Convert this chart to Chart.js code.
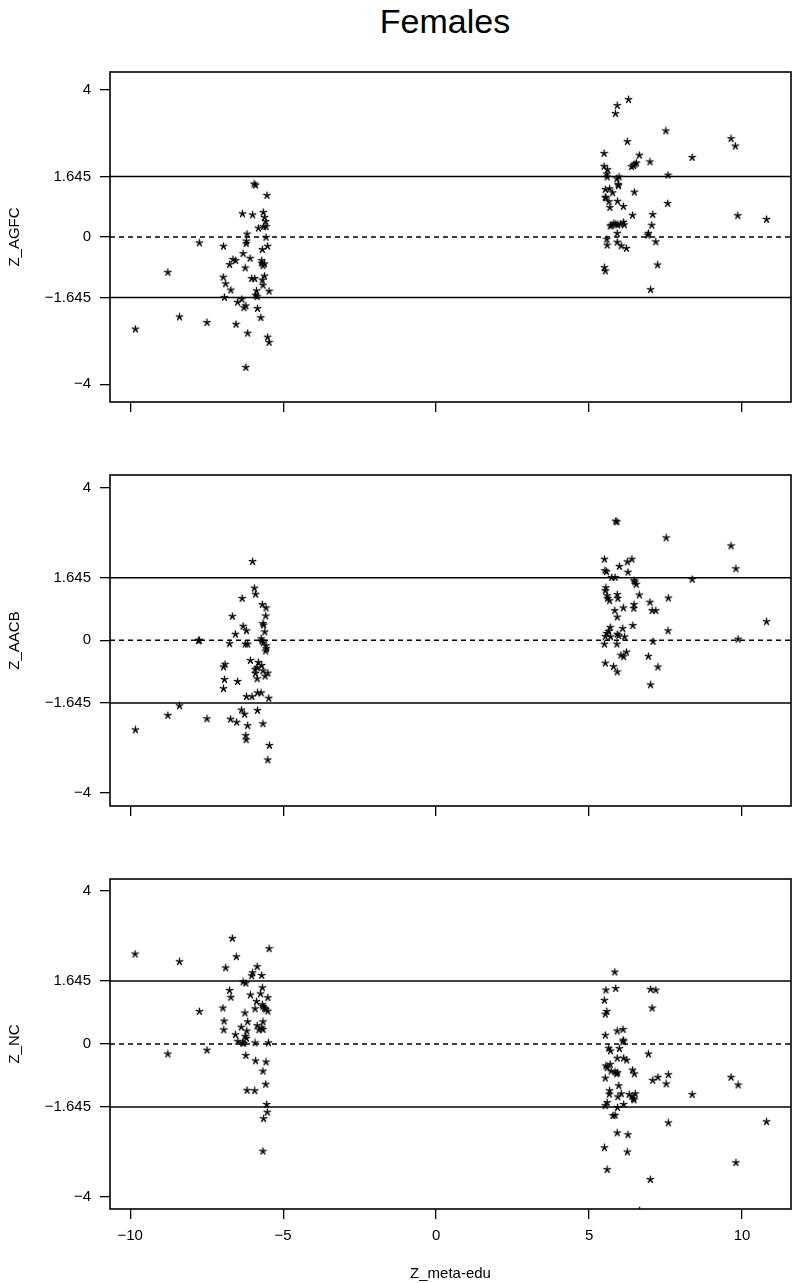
<!DOCTYPE html>
<html><head><meta charset="utf-8">
<script src="https://cdn.jsdelivr.net/npm/chart.js@4.4.0/dist/chart.umd.min.js"></script>
<style>
html,body{margin:0;padding:0;background:#fff;width:796px;height:1283px;overflow:hidden;}
#title{position:absolute;left:0;width:890px;top:4px;text-align:center;font:34px/34px "Liberation Sans",Arial,sans-serif;color:#000;}
canvas{position:absolute;left:0;}
</style></head><body>
<div id="title">Females</div>
<canvas id="c1" width="796" height="430" style="top:0px"></canvas>
<canvas id="c2" width="796" height="400" style="top:430px"></canvas>
<canvas id="c3" width="796" height="453" style="top:830px"></canvas>
<script>
// ---- data ----
const xTicks = [-10, -5, 0, 5, 10];
const yTicks = [4, 1.645, 0, -1.645, -4];
const refValues = [1.645, 0, -1.645];
const xRange = [-10.66, 11.6];

const agfcX = [-5.95,-5.90,-5.53,-6.33,-6.00,-5.65,-5.61,-5.57,-5.64,-5.56,-5.81,-6.18,-6.20,-6.21,-5.56,-7.74,-6.95,-5.51,-5.68,-6.31,-6.08,-6.64,-6.55,-6.75,-6.24,-5.70,-5.70,-5.66,-5.61,-8.77,-6.96,-6.88,-6.71,-6.03,-5.93,-5.68,-5.61,-5.66,-5.46,-5.87,-5.90,-5.85,-6.92,-6.35,-6.49,-6.22,-6.28,-5.84,-5.73,-8.39,-7.49,-6.54,-9.83,-6.16,-5.51,-5.46,-6.22,
 6.29,5.92,5.86,7.51,6.25,9.64,9.78,5.49,6.64,6.99,8.37,6.39,6.45,6.50,6.55,5.49,5.60,5.58,5.59,5.91,5.98,5.95,5.96,7.58,5.53,5.67,5.77,5.53,5.55,5.65,5.68,5.93,6.12,6.48,7.57,6.42,7.08,9.86,10.80,7.05,5.69,5.74,5.81,5.87,5.94,6.03,6.12,6.15,5.92,6.94,6.92,5.58,5.59,5.92,6.05,6.22,7.18,7.24,5.50,5.53,7.01];
const agfcY = [1.44,1.41,1.13,0.63,0.60,0.67,0.53,0.42,0.28,0.28,0.24,0.08,-0.11,-0.18,-0.01,-0.16,-0.25,-0.25,-0.34,-0.45,-0.58,-0.61,-0.64,-0.75,-0.84,-0.64,-0.71,-0.78,-0.73,-0.96,-1.09,-1.27,-1.44,-1.13,-1.13,-1.17,-1.06,-1.31,-1.47,-1.46,-1.58,-1.62,-1.64,-1.69,-1.77,-1.87,-1.92,-1.94,-2.19,-2.17,-2.32,-2.37,-2.50,-2.61,-2.72,-2.86,-3.54,
 3.73,3.57,3.35,2.88,2.59,2.67,2.47,2.27,2.22,2.04,2.16,1.91,1.94,1.98,2.01,1.92,1.83,1.71,1.63,1.58,1.63,1.43,1.39,1.68,1.29,1.31,1.20,1.08,1.06,0.96,0.80,0.97,0.83,1.22,0.91,0.59,0.61,0.58,0.48,0.32,0.30,0.32,0.37,0.35,0.33,0.35,0.40,0.33,0.10,0.10,0.05,-0.06,-0.22,-0.14,-0.24,-0.31,-0.13,-0.76,-0.83,-0.92,-1.43];

const aacbX = [-6.00,-5.94,-5.90,-6.34,-5.68,-5.56,-6.66,-5.57,-5.66,-5.64,-6.31,-6.20,-6.56,-5.60,-7.74,-7.77,-6.75,-6.24,-6.16,-5.72,-5.69,-5.65,-5.56,-5.55,-5.57,-6.07,-5.81,-5.70,-5.85,-5.66,-6.90,-6.95,-5.92,-5.91,-5.85,-5.50,-5.59,-6.92,-6.49,-6.95,-6.20,-6.02,-5.84,-5.72,-5.47,-8.39,-6.36,-6.26,-5.84,-8.77,-7.49,-6.72,-6.52,-6.16,-5.66,-9.83,-6.22,-6.21,-5.45,-5.50,
 5.87,5.91,7.52,9.64,5.50,6.40,6.25,5.99,5.52,5.57,6.27,9.80,5.74,5.85,6.47,6.50,6.54,8.37,5.55,5.53,5.59,5.61,5.67,5.92,5.94,6.64,7.59,6.99,6.47,6.46,6.12,5.84,7.06,7.18,5.92,6.43,6.10,7.58,10.80,5.69,5.64,5.58,5.53,5.92,5.97,6.16,5.70,5.50,5.91,7.09,9.87,6.22,6.04,6.13,6.94,5.53,5.80,5.92,7.25,7.01];
const aacbY = [2.07,1.37,1.21,1.10,0.94,0.85,0.63,0.64,0.44,0.40,0.37,0.25,0.16,0.22,0.00,-0.01,-0.09,-0.10,-0.10,0.04,-0.02,-0.07,-0.14,-0.22,-0.28,-0.53,-0.58,-0.66,-0.72,-0.80,-0.63,-0.70,-0.76,-0.87,-1.01,-0.86,-0.94,-1.03,-1.08,-1.27,-1.48,-1.48,-1.38,-1.38,-1.52,-1.72,-1.83,-1.94,-1.84,-1.97,-2.06,-2.07,-2.15,-2.24,-2.19,-2.35,-2.50,-2.61,-2.76,-3.14,
 3.13,3.11,2.69,2.48,2.13,2.13,2.06,1.94,1.83,1.80,1.79,1.88,1.65,1.65,1.57,1.53,1.47,1.60,1.38,1.30,1.17,1.10,1.04,1.20,1.10,1.19,1.11,1.00,0.94,0.84,0.85,0.78,0.78,0.78,0.61,0.39,0.31,0.25,0.49,0.34,0.24,0.18,0.10,0.16,0.12,0.09,0.09,-0.10,-0.10,-0.03,0.03,-0.31,-0.39,-0.43,-0.42,-0.60,-0.69,-0.83,-0.70,-1.17];

const ncX = [-6.66,-5.46,-9.84,-6.53,-8.39,-6.88,-5.85,-6.00,-6.03,-5.70,-6.31,-6.22,-5.68,-6.75,-6.71,-6.07,-5.74,-5.50,-5.87,-5.68,-5.66,-5.61,-5.57,-5.50,-5.92,-6.97,-7.74,-6.25,-6.93,-6.16,-5.66,-6.94,-6.37,-6.19,-5.85,-5.79,-5.70,-5.66,-6.56,-6.24,-6.20,-6.48,-6.33,-6.29,-5.92,-5.48,-8.77,-7.49,-6.22,-5.90,-5.56,-5.66,-5.57,-6.18,-5.93,-5.54,-5.52,-5.64,-5.66,
 5.84,5.55,5.87,7.01,7.18,5.50,7.06,5.58,5.53,5.92,6.11,5.53,6.12,6.11,5.64,5.70,5.99,6.94,5.92,6.13,6.23,5.55,5.69,5.59,5.72,5.85,5.93,5.90,6.42,6.48,5.53,7.08,7.25,7.59,7.52,9.64,9.87,5.97,5.67,5.66,5.94,6.05,6.31,6.40,6.45,6.51,6.47,8.37,5.59,5.53,5.93,6.13,5.78,5.85,7.59,10.80,5.92,6.27,5.50,6.25,9.80,5.59,7.00,6.65];
const ncY = [2.76,2.49,2.35,2.28,2.15,1.99,2.02,1.86,1.78,1.79,1.62,1.59,1.47,1.40,1.22,1.28,1.31,1.21,1.11,1.03,0.98,0.94,0.91,0.86,0.92,0.94,0.85,0.81,0.60,0.58,0.58,0.37,0.44,0.34,0.48,0.37,0.42,0.38,0.24,0.20,0.15,0.07,0.03,0.02,0.03,0.03,-0.26,-0.16,-0.30,-0.44,-0.47,-0.71,-1.05,-1.21,-1.22,-1.58,-1.78,-1.95,-2.80,
 1.88,1.41,1.45,1.43,1.41,1.14,0.94,0.85,0.78,0.34,0.38,0.23,0.10,0.06,-0.11,-0.18,-0.12,-0.26,-0.37,-0.37,-0.42,-0.57,-0.53,-0.62,-0.71,-0.73,-0.75,-0.78,-0.68,-0.78,-0.89,-0.95,-0.87,-0.80,-1.04,-0.87,-1.07,-1.09,-1.22,-1.31,-1.38,-1.30,-1.32,-1.37,-1.43,-1.30,-1.46,-1.32,-1.53,-1.61,-1.66,-1.58,-1.87,-1.86,-2.06,-2.03,-2.32,-2.37,-2.71,-2.82,-3.10,-3.28,-3.54,-4.35];

// ---- rendering ----
const FONT = {family: '"Liberation Sans", Arial, sans-serif', size: 15};
function fmt(v){ if (v === 0) return '0'; return (v < 0 ? '\u2212' : '') + String(Math.abs(v)); }

function makeStar(){
  const c = document.createElement('canvas'); c.width = 9; c.height = 9;
  const g = c.getContext('2d'); g.strokeStyle = '#000'; g.lineWidth = 1.35; g.lineCap = 'round';
  g.beginPath();
  for (let i = 0; i < 5; i++) {
    const a = -Math.PI/2 + i*2*Math.PI/5;
    g.moveTo(4.5, 4.5); g.lineTo(4.5 + 3.4*Math.cos(a), 4.5 + 3.4*Math.sin(a));
  }
  g.stroke();
  return c;
}
const star = makeStar();

const boxPlugin = {id:'box', afterDatasetsDraw(chart){
  const {ctx, chartArea:a} = chart; ctx.save(); ctx.strokeStyle = '#000'; ctx.lineWidth = 1.6;
  ctx.strokeRect(a.left, a.top, a.right - a.left, a.bottom - a.top); ctx.restore();
}};

function makeChart(id, xs, ys, yMin, yMax, yTitle, padTop, xHeight, showXLabels, xTitle){
  const pts = xs.map((x, i) => ({x: x, y: ys[i]}));
  const lines = refValues.map(v => ({
    data: [{x: xRange[0], y: v}, {x: xRange[1], y: v}],
    showLine: true, pointRadius: 0, borderColor: '#000', borderWidth: 1.5,
    borderDash: v === 0 ? [5, 4] : []
  }));
  new Chart(document.getElementById(id), {
    type: 'scatter',
    data: {datasets: [{data: pts, pointStyle: star, pointRadius: 4, pointHoverRadius: 4}].concat(lines)},
    options: {
      responsive: false, animation: false, events: [],
      layout: {padding: {top: padTop, right: 3, left: 0, bottom: 0}},
      plugins: {legend: {display: false}, tooltip: {enabled: false}},
      scales: {
        x: {type: 'linear', min: xRange[0], max: xRange[1],
          afterBuildTicks: s => { s.ticks = xTicks.map(v => ({value: v})); },
          afterFit: s => { s.height = xHeight; },
          ticks: {display: showXLabels, font: FONT, color: '#000', padding: 8, maxRotation: 0, autoSkip: false, callback: v => fmt(v)},
          grid: {drawOnChartArea: false, drawTicks: true, tickLength: 10, color: '#000', lineWidth: 1.3},
          border: {display: false},
          title: {display: !!xTitle, text: xTitle || '', font: FONT, color: '#000', padding: {top: 0, bottom: 0}}
        },
        y: {type: 'linear', min: yMin, max: yMax,
          afterBuildTicks: s => { s.ticks = yTicks.map(v => ({value: v})); },
          afterFit: s => { s.width = 110; },
          ticks: {font: FONT, color: '#000', padding: 9, autoSkip: false, callback: v => fmt(v)},
          grid: {drawOnChartArea: false, drawTicks: true, tickLength: 10, color: '#000', lineWidth: 1.3},
          border: {display: false},
          title: {display: true, text: yTitle, font: FONT, color: '#000', padding: {top: 6, bottom: 0}}
        }
      }
    },
    plugins: [boxPlugin]
  });
}

makeChart('c1', agfcX, agfcY, -4.48, 4.48, 'Z_AGFC', 72, 28, false, null);
makeChart('c2', aacbX, aacbY, -4.35, 4.34, 'Z_AACB', 45, 24, false, null);
makeChart('c3', ncX, ncY, -4.31, 4.31, 'Z_NC', 49, 74, true, 'Z_meta-edu');
</script>
</body></html>
